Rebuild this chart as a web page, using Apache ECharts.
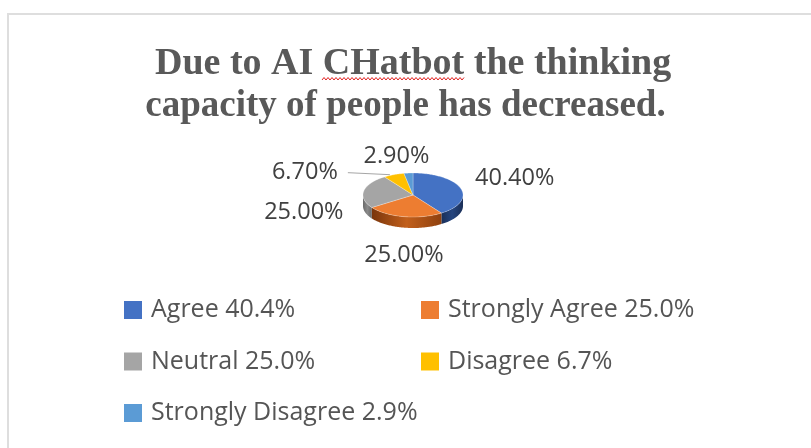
<!DOCTYPE html>
<html><head><meta charset="utf-8">
<script src="https://cdn.jsdelivr.net/npm/echarts@6/dist/echarts.min.js"></script>
<style>html,body{margin:0;padding:0;background:#fff}#c{width:811px;height:448px}</style>
</head><body><div id="c"></div>
<script>
// ---- data ----
const categories = ['Agree', 'Strongly Agree', 'Neutral', 'Disagree', 'Strongly Disagree'];
const values = [40.4, 25.0, 25.0, 6.7, 2.9];
const titleLines = ['Due to AI CHatbot the thinking', 'capacity of people has decreased.'];

// ---- styles / layout ----
const colors = ['#4472C4', '#ED7D31', '#A5A5A5', '#FFC000', '#5B9BD5'];
const sideColors = [
  ['#1a2f57', '#25457f', '#1a2f57'],
  ['#7a350b', '#c2601c', '#8f410f'],
  ['#6a6a6a', '#8a8a8a', '#6a6a6a'],
  ['#a07800', '#cc9a00', '#a07800'],
  ['#2d6399', '#3c7fbf', '#2d6399']
];
const pie = { cx: 413, cy: 195, rx: 50, ry: 22, depth: 11 };
const labelOffsets = [[54, -10], [0, 39], [-60, 21], [-89, -2], [-12, -17]];
const leaderFlags = [false, false, false, true, false];
const labelFont = '23.5px "Open Sans"';

const total = values.reduce((a, b) => a + b, 0);

function makeRender(i) {
  return function (params, api) {
    let before = 0;
    for (let k = 0; k < i; k++) before += values[k];
    const v = api.value(0);
    const a1 = before / total * 2 * Math.PI;
    const a2 = (before + v) / total * 2 * Math.PI;
    const pt = (t, dy) => [pie.cx + pie.rx * Math.sin(t), pie.cy + dy - pie.ry * Math.cos(t)];
    const arc = (s, e, dy) => {
      const n = Math.max(2, Math.ceil((e - s) / 0.02));
      const pts = [];
      for (let j = 0; j <= n; j++) pts.push(pt(s + (e - s) * j / n, dy));
      return pts;
    };
    const children = [];
    const ws = Math.max(a1, Math.PI / 2), we = Math.min(a2, 1.5 * Math.PI);
    if (we > ws) {
      const pts = arc(ws, we, 0).concat(arc(ws, we, pie.depth).reverse());
      const sc = sideColors[i];
      children.push({
        type: 'polygon', z2: 1, shape: { points: pts },
        style: { fill: new echarts.graphic.LinearGradient(0, 0, 1, 0, [
          { offset: 0, color: sc[0] }, { offset: 0.5, color: sc[1] }, { offset: 1, color: sc[2] }]) }
      });
    }
    const top = [[pie.cx, pie.cy]].concat(arc(a1, a2, 0));
    children.push({
      type: 'polygon', z2: 5, shape: { points: top },
      style: { fill: colors[i], stroke: 'rgba(255,255,255,0.45)', lineWidth: 0.6 }
    });
    const mid = (a1 + a2) / 2;
    const anchor = pt(mid, 0);
    const lx = anchor[0] + labelOffsets[i][0], ly = anchor[1] + labelOffsets[i][1];
    children.push({
      type: 'text', z2: 10,
      style: { text: v.toFixed(2) + '%', x: lx, y: ly, align: 'center', verticalAlign: 'middle',
               fill: '#404040', font: labelFont }
    });
    if (leaderFlags[i]) {
      children.push({
        type: 'polyline', z2: 8,
        shape: { points: [[lx + 43, ly], [anchor[0] - 4, anchor[1]]] },
        style: { stroke: '#a6a6a6', lineWidth: 1, fill: null }
      });
    }
    return { type: 'group', children };
  };
}

const legendFormatter = name => name + ' ' + values[categories.indexOf(name)].toFixed(1) + '%';
const legendBase = {
  orient: 'vertical', icon: 'rect', itemWidth: 18, itemHeight: 18, itemGap: 23.5, padding: 0,
  selectedMode: false, formatter: legendFormatter,
  textStyle: { fontFamily: 'Open Sans', fontSize: 25, color: '#555555', lineHeight: 28, padding: [0, 0, 0, 4] }
};

const wave = [];
for (let x = 322, k = 0; x <= 465; x += 2, k++) wave.push([x, k % 2 ? 77.5 : 80]);

const titleStyle = { fontFamily: 'Liberation Serif', fontWeight: 'bold', fontSize: 37, lineHeight: 42, color: '#595959' };

const chart = echarts.init(document.getElementById('c'));
chart.setOption({
  animation: false,
  backgroundColor: '#ffffff',
  title: [
    { text: titleLines[0], left: 155, top: 43, padding: 0, textStyle: Object.assign({}, titleStyle, { fontSize: 38 }) },
    { text: titleLines[1], left: 'center', top: 85, padding: 0, textStyle: titleStyle }
  ],
  legend: [
    Object.assign({}, legendBase, { data: ['Agree', 'Neutral', 'Strongly Disagree'], left: 124, top: 296 }),
    Object.assign({}, legendBase, { data: ['Strongly Agree', 'Disagree'], left: 421, top: 296 })
  ],
  graphic: [
    { type: 'rect', shape: { x: 8, y: 14, width: 900, height: 600 }, style: { fill: null, stroke: '#dedede', lineWidth: 2 }, silent: true },
    { type: 'polyline', shape: { points: wave }, style: { stroke: '#e02020', lineWidth: 1, fill: null }, silent: true, z: 10 }
  ],
  series: categories.map((name, i) => ({
    type: 'custom', name, coordinateSystem: 'none', silent: true,
    data: [[values[i]]], itemStyle: { color: colors[i] }, renderItem: makeRender(i)
  }))
});
</script></body></html>
